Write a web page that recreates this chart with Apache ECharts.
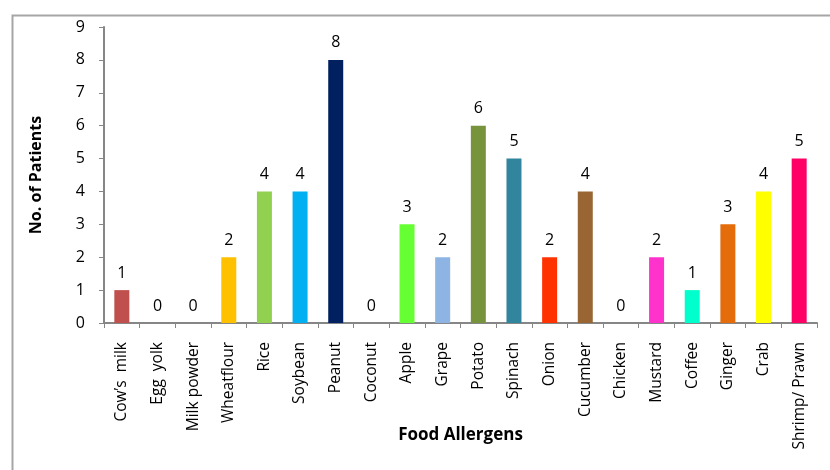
<!DOCTYPE html>
<html>
<head>
<meta charset="utf-8">
<script src="https://cdn.jsdelivr.net/npm/echarts@6/dist/echarts.min.js"></script>
<style>
  html, body { margin: 0; padding: 0; background: #fff; }
  #chart { width: 830px; height: 470px; }
</style>
</head>
<body>
<div id="chart"></div>
<script>
// Food allergens and number of patients sensitised to each
const categories = ["Cow\u2019s  milk", "Egg  yolk", "Milk powder", "Wheatflour", "Rice", "Soybean", "Peanut",
  "Coconut", "Apple", "Grape", "Potato", "Spinach", "Onion", "Cucumber", "Chicken", "Mustard", "Coffee",
  "Ginger", "Crab", "Shrimp/ Prawn"];
const patients = [1, 0, 0, 2, 4, 4, 8, 0, 3, 2, 6, 5, 2, 4, 0, 2, 1, 3, 4, 5];
const barColors = ["#C0504D", "#A0A0A0", "#A0A0A0", "#FFC000", "#92D050", "#00B0F0", "#002060",
  "#A0A0A0", "#66FF33", "#8DB4E2", "#77933C", "#31859C", "#FF3300", "#996633", "#A0A0A0", "#FF33CC",
  "#00FFCC", "#E46C0A", "#FFFF00", "#FF0066"];
const yTicks = [0, 1, 2, 3, 4, 5, 6, 7, 8, 9];

const font = "'Open Sans', 'DejaVu Sans', sans-serif";
const axisGray = "#868686";

const chart = echarts.init(document.getElementById("chart"));
chart.setOption({
  animation: false,
  backgroundColor: "#ffffff",
  graphic: [
    { type: "polyline", shape: { points: [[12.5, 470], [12.5, 15.5], [830, 15.5]] },
      style: { stroke: "#A6A6A6", lineWidth: 2, fill: null } }
  ],
  grid: { left: 104, right: 13, top: 27, bottom: 147, containLabel: false },
  xAxis: {
    type: "category",
    data: categories,
    name: "Food Allergens",
    nameLocation: "middle",
    nameGap: 104,
    nameMoveOverlap: false,
    nameTextStyle: { fontFamily: font, fontWeight: "bold", fontSize: 17, color: "#000" },
    axisLine: { lineStyle: { color: axisGray, width: 2 } },
    axisTick: { show: true, length: 5, lineStyle: { color: axisGray, width: 1 } },
    axisLabel: { rotate: 90, interval: 0, margin: 19, fontFamily: font, fontSize: 15.5, color: "#000" }
  },
  yAxis: {
    type: "value",
    min: 0, max: 9, interval: 1,
    name: "No. of Patients",
    nameLocation: "middle",
    nameGap: 60,
    nameMoveOverlap: false,
    nameTextStyle: { fontFamily: font, fontWeight: "bold", fontSize: 16, color: "#000" },
    axisLine: { show: true, lineStyle: { color: axisGray, width: 2 } },
    axisTick: { show: true, inside: false, length: 5, lineStyle: { color: axisGray } },
    splitLine: { show: false },
    axisLabel: {
      margin: 19, fontFamily: font, fontSize: 16, color: "#000",
      formatter: v => (yTicks.includes(v) ? String(v) : "")
    }
  },
  series: [{
    type: "bar",
    data: patients.map((v, i) => ({ value: v, itemStyle: { color: barColors[i] } })),
    barWidth: 15,
    label: { show: true, position: "top", distance: 9, fontFamily: font, fontSize: 16, color: "#000" }
  }]
});
</script>
</body>
</html>
